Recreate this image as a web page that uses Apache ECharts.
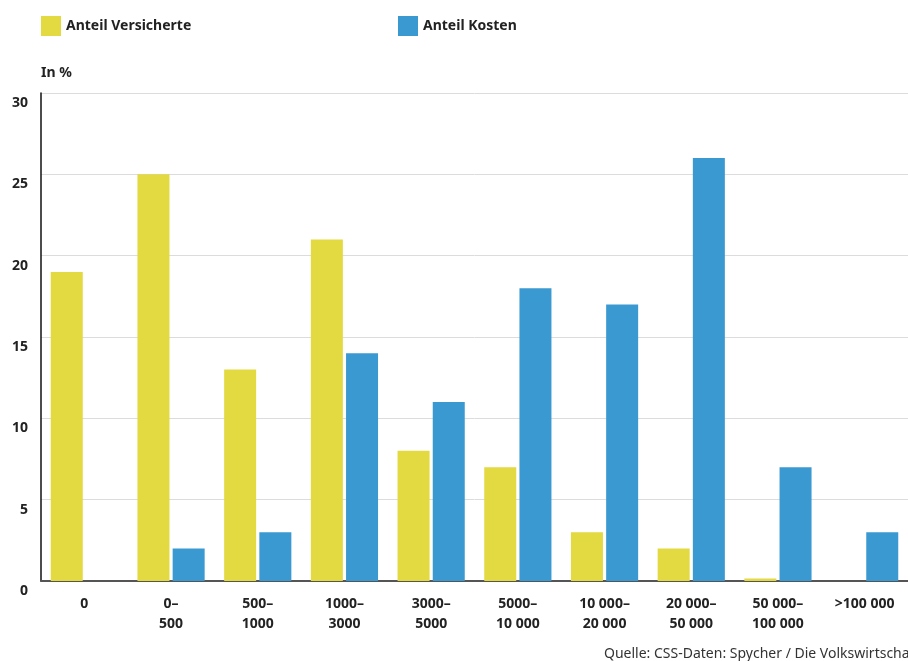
<!DOCTYPE html>
<html lang="de">
<head>
    <meta charset="UTF-8">
    <title>Anteil Versicherte / Kosten</title>
    <script src="https://cdn.jsdelivr.net/npm/echarts@6/dist/echarts.min.js"></script>
    <style>
        html, body { margin: 0; padding: 0; background: #fff; }
        #main { width: 908px; height: 661px; }
    </style>
</head>
<body>
<div id="main"></div>
<script>
    // Kostenklassen (CHF)
    var categories = ['0', '0–\n500', '500–\n1000', '1000–\n3000', '3000–\n5000',
        '5000–\n10 000', '10 000–\n20 000', '20 000–\n50 000', '50 000–\n100 000', '>100 000'];
    var versicherte = [19, 25, 13, 21, 8, 7, 3, 2, 0.15, 0];
    var kosten = [0, 2, 3, 14, 11, 18, 17, 26, 7, 3];
    var yTicks = [0, 5, 10, 15, 20, 25, 30];

    var font = 'Noto Sans';
    var myChart = echarts.init(document.getElementById('main'));

    var legendText = { fontFamily: font, fontSize: 14, fontWeight: 'bold', color: '#222' };

    var option = {
        animation: false,
        textStyle: { fontFamily: font },
        title: {
            text: 'In %',
            left: 36, top: 61,
            textStyle: { fontFamily: font, fontSize: 14, fontWeight: 'bold', color: '#222' }
        },
        legend: [{
            data: ['Anteil Versicherte'],
            left: 36, top: 11,
            icon: 'rect',
            itemWidth: 20, itemHeight: 20, itemGap: 0,
            textStyle: legendText
        }, {
            data: ['Anteil Kosten'],
            left: 393, top: 11,
            icon: 'rect',
            itemWidth: 20, itemHeight: 20, itemGap: 0,
            textStyle: legendText
        }],
        grid: { left: 41, right: 0, top: 93, bottom: 80, containLabel: false },
        xAxis: {
            type: 'category',
            data: categories,
            axisTick: { show: false },
            axisLine: { lineStyle: { color: '#555', width: 2 } },
            axisLabel: {
                margin: 13, interval: 0,
                fontFamily: font, fontSize: 14, fontWeight: 'bold', color: '#222', lineHeight: 20
            }
        },
        yAxis: {
            type: 'value',
            min: yTicks[0], max: yTicks[yTicks.length - 1], interval: 5,
            axisLine: { show: true, lineStyle: { color: '#111', width: 1.5 } },
            axisTick: { show: false },
            splitLine: { lineStyle: { color: '#dcdcdc', width: 1 } },
            axisLabel: {
                margin: 13, verticalAlign: 'top', padding: [3, 0, 0, 0],
                fontFamily: font, fontSize: 14, fontWeight: 'bold', color: '#222'
            }
        },
        series: [{
            name: 'Anteil Versicherte',
            type: 'bar',
            data: versicherte,
            barWidth: 32,
            barGap: '10%',
            itemStyle: { color: '#e3d941' }
        }, {
            name: 'Anteil Kosten',
            type: 'bar',
            data: kosten,
            barWidth: 32,
            itemStyle: { color: '#3a99d0' }
        }],
        graphic: [{
            type: 'text',
            left: 604, top: 647,
            style: {
                text: 'Quelle: CSS-Daten: Spycher / Die Volkswirtschaft',
                font: '14px "Noto Sans"', fill: '#333'
            }
        }]
    };

    myChart.setOption(option);
</script>
</body>
</html>
